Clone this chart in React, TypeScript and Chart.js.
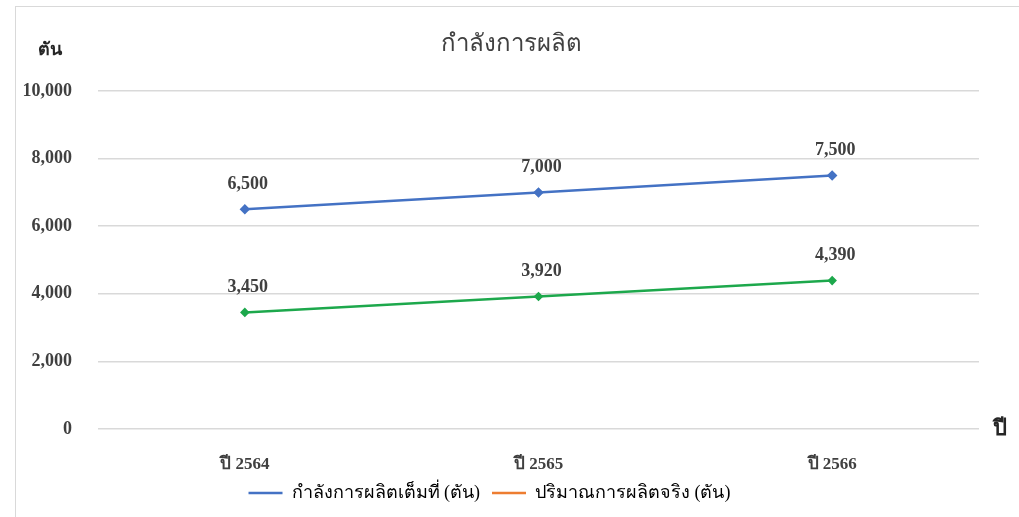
import React, { useEffect, useRef } from "react";
import { Chart, registerables } from "chart.js";

Chart.register(...registerables);

const categories = ["ปี 2564", "ปี 2565", "ปี 2566"];
const fullCapacity = [6500, 7000, 7500];
const actualOutput = [3450, 3920, 4390];
const seriesNames = ["กำลังการผลิตเต็มที่ (ตัน)", "ปริมาณการผลิตจริง (ตัน)"];
const titleText = "กำลังการผลิต";
const yUnit = "ตัน";
const xUnit = "ปี";

const FONT = '"Liberation Serif", "DejaVu Serif", serif';

const extraText = {
  id: "extraText",
  afterDatasetsDraw(chart: any) {
    const { ctx, chartArea } = chart;
    ctx.save();
    // data labels
    ctx.font = `bold 18px ${FONT}`;
    ctx.fillStyle = "#404040";
    ctx.textAlign = "center";
    ctx.textBaseline = "middle";
    chart.data.datasets.forEach((ds: any, i: number) => {
      const meta = chart.getDatasetMeta(i);
      meta.data.forEach((pt: any, j: number) => {
        const v = ds.data[j] as number;
        ctx.fillText(v.toLocaleString("en-US"), pt.x + 3, pt.y - 25);
      });
    });
    // title
    ctx.font = `24px ${FONT}`;
    ctx.fillStyle = "#404040";
    ctx.fillText(titleText, chart.width / 2 + 2, 45);
    // y unit
    ctx.font = `bold 18px ${FONT}`;
    ctx.fillStyle = "#262626";
    ctx.fillText(yUnit, 50, 50);
    // x unit
    ctx.font = `bold 22px ${FONT}`;
    ctx.fillText(xUnit, 1000, chartArea.bottom);
    ctx.restore();
  },
};

export default function App() {
  const ref = useRef<HTMLCanvasElement | null>(null);
  useEffect(() => {
    document.body.style.margin = "0";
    const canvas = ref.current!;
    const chart = new Chart(canvas, {
      type: "line",
      data: {
        labels: categories,
        datasets: [
          {
            label: seriesNames[0],
            data: fullCapacity,
            borderColor: "#4472C4",
            backgroundColor: "#4472C4",
            borderWidth: 2.5,
            pointRadius: 3.5,
            pointStyle: "rectRot",
          },
          {
            label: seriesNames[1],
            data: actualOutput,
            borderColor: "#1DA84C",
            backgroundColor: "#1DA84C",
            borderWidth: 2.5,
            pointRadius: 3,
            pointStyle: "rectRot",
          },
        ],
      },
      options: {
        animation: false,
        responsive: false,
        layout: { padding: { top: 91, right: 40, left: 0, bottom: 5 } },
        plugins: {
          title: { display: false },
          tooltip: { enabled: false },
          legend: {
            position: "bottom",
            labels: {
              usePointStyle: true,
              pointStyle: "line",
              pointStyleWidth: 34,
              boxHeight: 8,
              color: "#595959",
              font: { family: FONT, size: 18 },
              padding: 12,
              generateLabels: () => [
                {
                  text: seriesNames[0],
                  strokeStyle: "#4472C4",
                  fillStyle: "#4472C4",
                  lineWidth: 2.5,
                  pointStyle: "line",
                  datasetIndex: 0,
                },
                {
                  text: seriesNames[1],
                  strokeStyle: "#ED7D31",
                  fillStyle: "#ED7D31",
                  lineWidth: 2.5,
                  pointStyle: "line",
                  datasetIndex: 1,
                },
              ],
            },
          },
        },
        scales: {
          x: {
            offset: true,
            grid: { display: false },
            border: { display: false },
            afterFit: (scale: any) => {
              scale.height = 43;
            },
            ticks: {
              color: "#404040",
              font: { family: FONT, size: 17, weight: "bold" },
              padding: 17,
            },
          },
          y: {
            min: 0,
            max: 10000,
            afterFit: (scale: any) => {
              scale.width = 98;
            },
            grid: { color: "#D9D9D9", lineWidth: 1.5, drawTicks: false },
            border: { display: false },
            ticks: {
              stepSize: 2000,
              color: "#404040",
              padding: 26,
              font: { family: FONT, size: 18, weight: "bold" },
              callback: (v: any) => Number(v).toLocaleString("en-US"),
            },
          },
        },
      },
      plugins: [extraText],
    });
    return () => chart.destroy();
  }, []);
  return (
    <div style={{ position: "relative", width: 1019, height: 517, background: "#fff", overflow: "hidden" }}>
      <div
        style={{
          position: "absolute",
          left: 15,
          top: 6,
          width: 1100,
          height: 600,
          border: "1.5px solid #D9D9D9",
          boxSizing: "border-box",
        }}
      />
      <canvas ref={ref} width={1019} height={517} style={{ position: "absolute", left: 0, top: 0 }} />
    </div>
  );
}
